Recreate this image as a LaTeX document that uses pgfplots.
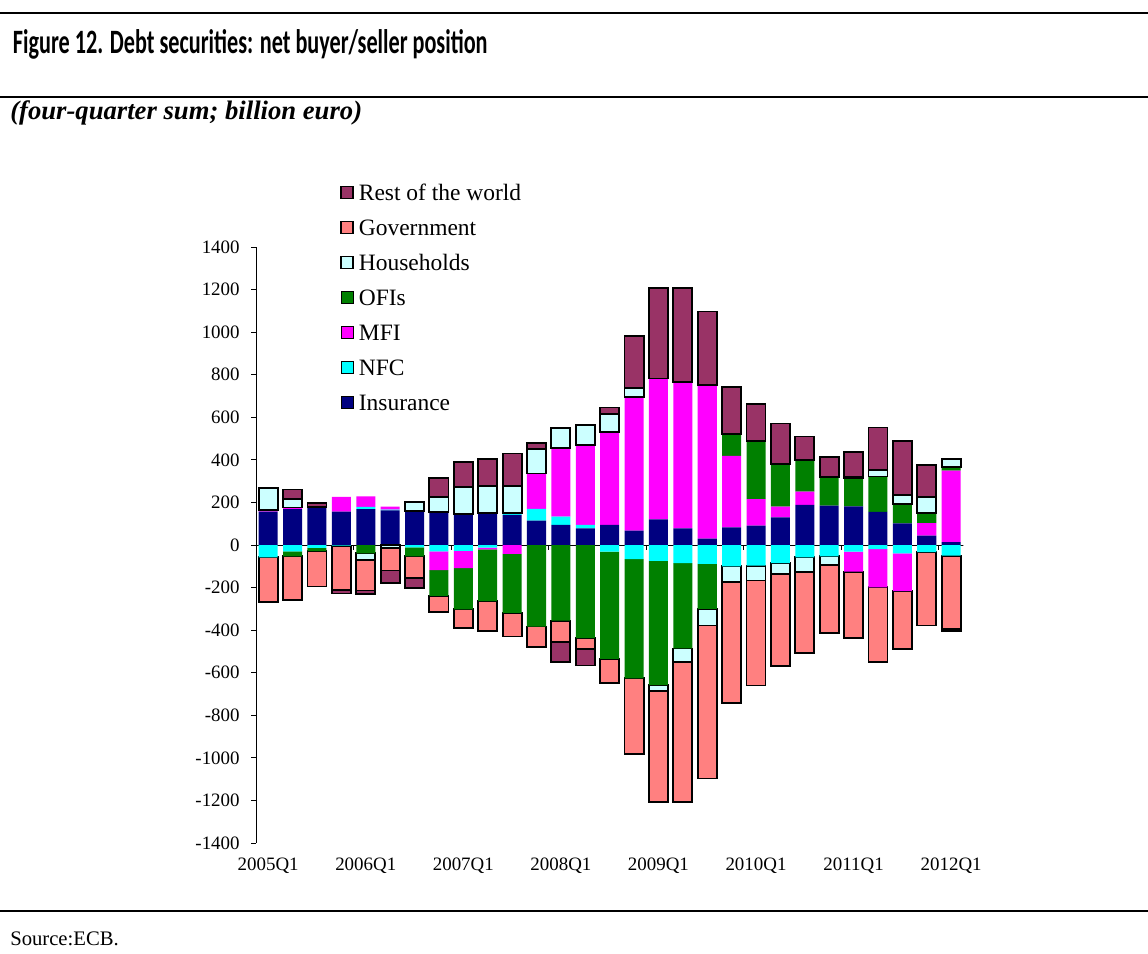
\documentclass[border=0pt]{standalone}
\usepackage{graphicx}
\usepackage{pgfplots}
\pgfplotsset{compat=1.18}
\usepackage{pgfplotstable}
\usepackage{fontspec}
\setmainfont{Liberation Serif}
\newfontfamily\titlefont{Carlito}

\definecolor{rowc}{RGB}{153,51,102}
\definecolor{govc}{RGB}{255,128,128}
\definecolor{hhc}{RGB}{204,255,255}
\definecolor{ofic}{RGB}{0,128,0}
\definecolor{mfic}{RGB}{255,0,255}
\definecolor{nfcc}{RGB}{0,255,255}
\definecolor{insc}{RGB}{0,0,128}

\pgfplotstableread{
q Ins NFC MFI OFI HH Gov RoW
0 157 -58 9 0 100 -209 0
1 168 -30 8 -23 41 -206 44
2 177 -14 0 -15 0 -166 20
3 157 -3 69 0 0 -208 -17
4 168 11 50 -39 -31 -144 -16
5 163 3 14 0 -15 -105 -60
6 155 -11 5 -42 42 -104 -45
7 157 -30 -88 -121 67 -75 89
8 146 -27 -82 -193 126 -89 118
9 149 -12 -8 -244 130 -141 125
10 141 10 -42 -277 127 -111 152
11 114 56 166 -383 117 -97 28
12 95 38 321 -355 95 -99 -97
13 78 16 376 -438 95 -50 -78
14 95 -31 434 -504 86 -113 31
15 67 -66 629 -560 41 -355 246
16 120 -74 662 -584 -27 -522 425
17 78 -85 689 -401 -63 -658 440
18 30 -89 722 -211 -78 -719 345
19 83 -100 336 102 -72 -570 222
20 91 -97 125 271 -70 -493 175
21 130 -85 50 200 -52 -432 191
22 188 -58 63 149 -67 -383 110
23 185 -53 0 133 -39 -321 94
24 182 -31 -94 133 5 -313 118
25 156 -19 -180 166 31 -352 199
26 102 -39 -178 91 42 -271 255
27 44 -34 59 47 74 -344 153
28 13 -50 336 19 36 -344 -8
}\datatable

\pgfplotsset{
  base/.style={
    at={(192pt,-632.25pt)}, anchor=south west,
    scale only axis, width=530.5pt, height=447pt,
    xmin=-0.5, xmax=28.5, ymin=-1400, ymax=1400,
  },
  barax/.style={base, hide axis, ybar stacked, bar width=0.78},
  bord/.style={draw=black, line width=1.4pt},
}

\begin{document}
\begin{tikzpicture}
\path[use as bounding box] (0,0) rectangle (861pt,-714.75pt);
\draw[line width=1.5pt] (0,-9.5pt) -- (861pt,-9.5pt);
\draw[line width=1.5pt] (0,-72.5pt) -- (861pt,-72.5pt);
\draw[line width=1.5pt] (0,-683.5pt) -- (861pt,-683.5pt);
\node[anchor=base west, inner sep=0pt] at (9.5pt,-40pt)
  {\resizebox{356pt}{18pt}{\titlefont\bfseries Figure 12. Debt securities: net buyer/seller position}};
\node[anchor=base west, inner sep=0pt] at (7.5pt,-89.4pt)
  {\fontsize{20}{20}\selectfont\bfseries\itshape (four-quarter sum; billion euro)};
\node[anchor=base west, inner sep=0pt] at (7.5pt,-709pt)
  {\fontsize{15.5}{15.5}\selectfont Source:ECB.};

% frame, ticks, legend
\begin{axis}[base,
  axis lines*=left,
  x axis line style={draw=none},
  y axis line style={black, line width=0.75pt},
  xtick={0,4,...,28},
  xticklabels={2005Q1,2006Q1,2007Q1,2008Q1,2009Q1,2010Q1,2011Q1,2012Q1},
  xtick style={draw=none},
  ytick={-1400,-1200,...,1400},
  ytick style={black, line width=0.75pt},
  tick align=outside,
  major tick length=3.75pt,
  tick label style={font=\fontsize{14.2}{14.2}\selectfont},
  /pgf/number format/assume math mode=true,
  /pgf/number format/1000 sep={},
  xticklabel style={yshift=-4pt},
  yticklabel style={xshift=-5pt},
  legend image code/.code={\draw[#1] (0pt,-4.5pt) rectangle (9pt,4.5pt);},
  legend cell align=left,
  legend style={draw=none, fill=none, at={(0.1188,1.106)}, anchor=north west,
    inner sep=0pt, font=\fontsize{17.6}{17.6}\selectfont, row sep=13.75pt,
    nodes={inner sep=0pt, text height=12.5pt, text depth=0pt},
    /tikz/every odd column/.append style={column sep=3.75pt}},
]
\addlegendimage{fill=rowc, draw=black, line width=1.2pt}
\addlegendimage{fill=govc, draw=black, line width=1.2pt}
\addlegendimage{fill=hhc, draw=black, line width=1.2pt}
\addlegendimage{fill=ofic, draw=none}
\addlegendimage{fill=mfic, draw=none}
\addlegendimage{fill=nfcc, draw=none}
\addlegendimage{fill=insc, draw=none}
\legend{Rest of the world, Government, Households, OFIs, MFI, NFC, Insurance}
\end{axis}

% positive stack, unbordered series
\begin{axis}[barax]
\addplot[fill=insc, draw=none] table[x=q, y expr={max(\thisrow{Ins},0)}] {\datatable};
\addplot[fill=nfcc, draw=none] table[x=q, y expr={max(\thisrow{NFC},0)}] {\datatable};
\addplot[fill=mfic, draw=none] table[x=q, y expr={max(\thisrow{MFI},0)}] {\datatable};
\addplot[fill=ofic, draw=none] table[x=q, y expr={max(\thisrow{OFI},0)}] {\datatable};
\end{axis}

% positive households (base moved out of view where not positive)
\begin{axis}[barax]
\addplot[fill=none, draw=none] table[x=q, y expr={(\thisrow{HH}>0) ? (max(\thisrow{Ins},0)+max(\thisrow{NFC},0)+max(\thisrow{MFI},0)+max(\thisrow{OFI},0)) : (-5000)}] {\datatable};
\addplot[fill=hhc, bord] table[x=q, y expr={max(\thisrow{HH},0)}] {\datatable};
\end{axis}

% positive rest of the world
\begin{axis}[barax]
\addplot[fill=none, draw=none] table[x=q, y expr={(\thisrow{RoW}>0) ? (max(\thisrow{Ins},0)+max(\thisrow{NFC},0)+max(\thisrow{MFI},0)+max(\thisrow{OFI},0)+max(\thisrow{HH},0)) : (-5000)}] {\datatable};
\addplot[fill=rowc, bord] table[x=q, y expr={max(\thisrow{RoW},0)}] {\datatable};
\end{axis}

% negative stack
\begin{axis}[barax]
\addplot[fill=insc, draw=none] table[x=q, y expr={min(\thisrow{Ins},0)}] {\datatable};
\addplot[fill=nfcc, draw=none] table[x=q, y expr={min(\thisrow{NFC},0)}] {\datatable};
\addplot[fill=mfic, draw=none] table[x=q, y expr={min(\thisrow{MFI},0)}] {\datatable};
\addplot[fill=ofic, draw=none] table[x=q, y expr={min(\thisrow{OFI},0)}] {\datatable};
\addplot[fill=hhc, bord] table[x=q, y expr={min(\thisrow{HH},0)}] {\datatable};
\addplot[fill=govc, bord] table[x=q, y expr={min(\thisrow{Gov},0)}] {\datatable};
\addplot[fill=rowc, bord] table[x=q, y expr={min(\thisrow{RoW},0)}] {\datatable};
\draw[black, line width=0.75pt] (axis cs:-0.5,0) -- (axis cs:28.6,0);
\pgfplotsinvokeforeach{3.5,7.5,11.5,15.5,19.5,23.5,27.5}{
  \draw[black, line width=0.75pt] (axis cs:#1,0) -- ([yshift=-3.4pt]axis cs:#1,0);
}
\end{axis}
\end{tikzpicture}
\end{document}
